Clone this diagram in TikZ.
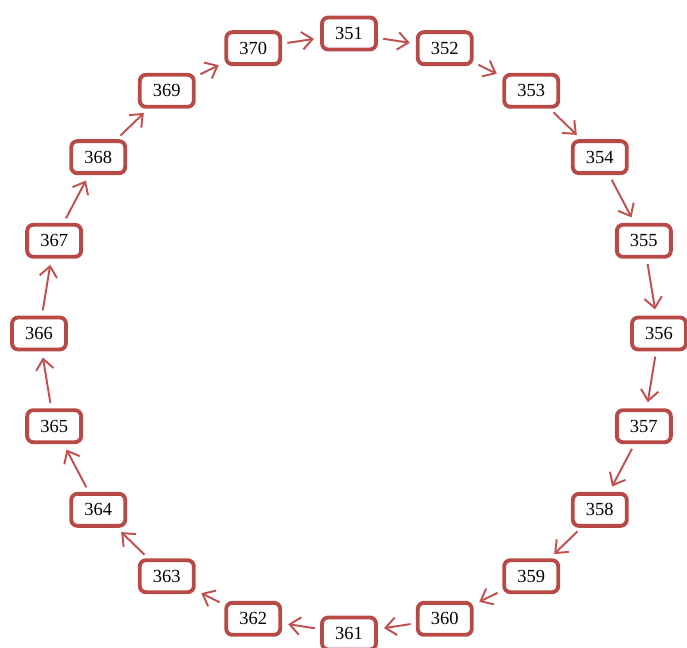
\documentclass[tikz,border=0pt]{standalone}
\usepackage{fontspec}
\setmainfont{Liberation Serif}
\usetikzlibrary{arrows.meta}

\definecolor{rougebord}{RGB}{183,74,71}
\definecolor{rougefleche}{RGB}{192,80,77}

\begin{document}
\begin{tikzpicture}[x=0.02cm,y=-0.02cm,>={Straight Barb[length=6pt,width=10pt]},
    boite/.style={draw=rougebord,line width=2.2pt,rounded corners=3.5pt,fill=white,
      minimum width=1.08cm,minimum height=0.64cm,inner sep=0pt,font=\fontsize{10.5}{12}\selectfont},
    fleche/.style={->,draw=rougefleche,line width=1.1pt,shorten <=3pt,shorten >=3.5pt}]

    \useasboundingbox (0,0) rectangle (687,648);

    %Boites en cercle
    \foreach \i in {0,...,19}{
        \pgfmathtruncatemacro\num{351+\i}
        \node[boite] (n\num) at ({349+310*sin(18*\i)},{333.5-300*cos(18*\i)}) {\num};
    }

    %Fleches
    \foreach \i in {0,...,19}{
        \pgfmathtruncatemacro\dep{351+\i}
        \pgfmathtruncatemacro\arr{351+mod(\i+1,20)}
        \draw[fleche] (n\dep) -- (n\arr);
    }

\end{tikzpicture}
\end{document}
